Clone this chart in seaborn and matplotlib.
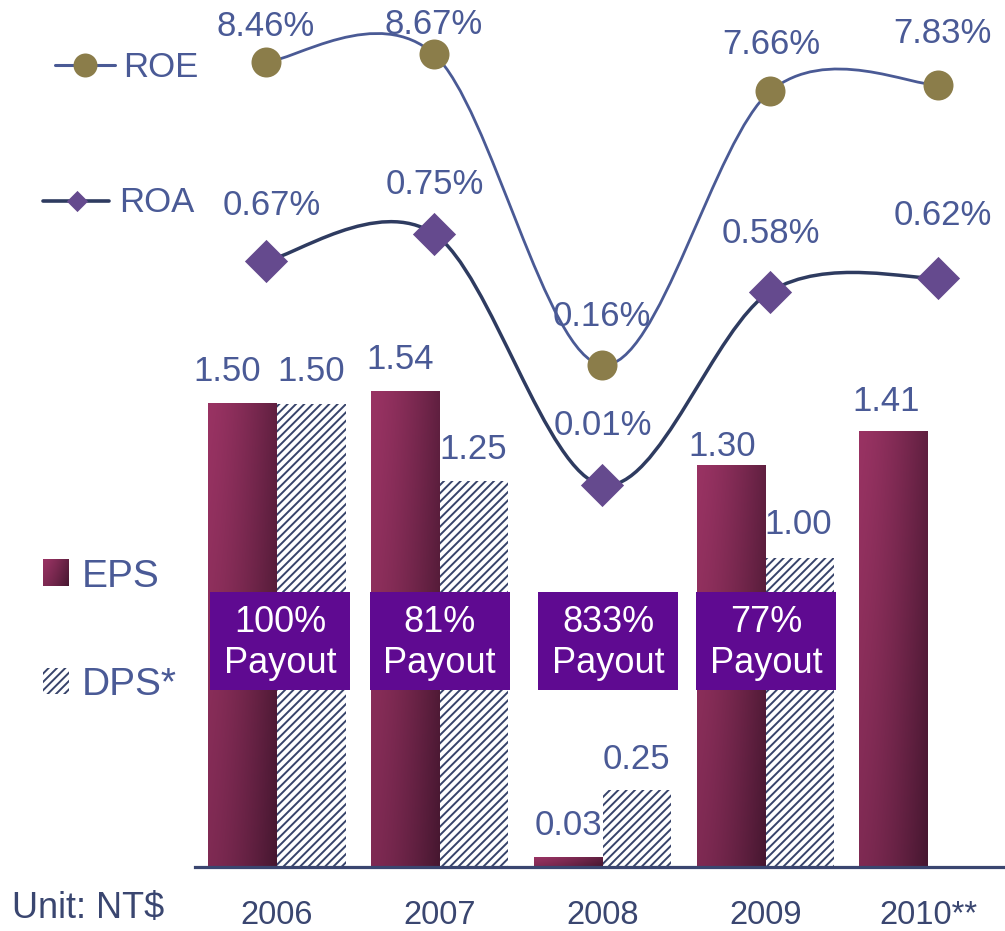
import numpy as np
import pandas as pd
import matplotlib
matplotlib.use("Agg")
import matplotlib.pyplot as plt
import seaborn as sns
from matplotlib.path import Path
from matplotlib.patches import PathPatch, Rectangle

# ---------------- data ----------------
years = ["2006", "2007", "2008", "2009", "2010**"]
eps = [1.50, 1.54, 0.03, 1.30, 1.41]
dps = [1.50, 1.25, 0.25, 1.00, np.nan]
roe = [8.46, 8.67, 0.16, 7.66, 7.83]
roa = [0.67, 0.75, 0.01, 0.58, 0.62]
payout = ["100%", "81%", "833%", "77%", None]

# ---------------- style ----------------
sns.set_theme(style="white")
plt.rcParams["font.family"] = ["Liberation Sans", "DejaVu Sans"]
plt.rcParams["hatch.linewidth"] = 1.4

TXT = "#4a5a96"
TICK = "#3a4670"
ROE_LINE = "#4a5a95"
ROA_LINE = "#2e3b60"
ROE_MK = "#8b7d4a"
ROA_MK = "#654a8e"
BOX = "#5f0a91"
HATCH_C = "#37436a"

W, H = 1005, 931
fig = plt.figure(figsize=(W / 100, H / 100), dpi=100)


def frac(x0, y0, x1, y1):
    return [x0 / W, 1 - y1 / H, (x1 - x0) / W, (y1 - y0) / H]


pos = frac(195, 0, 1005, 867)

# ---------------- bars ----------------
ax = fig.add_axes(pos)
df = pd.DataFrame({
    "year": years * 2,
    "metric": ["EPS"] * len(years) + ["DPS"] * len(years),
    "value": eps + dps,
}).dropna()
sns.barplot(data=df, x="year", y="value", hue="metric", order=years,
            hue_order=["EPS", "DPS"], width=0.842, saturation=1,
            palette={"EPS": "#8a2c58", "DPS": "white"}, errorbar=None,
            legend=False, ax=ax)

XL = (-0.5038, 4.473)
YL = (0, 2.8086)

c0 = np.array([0x99, 0x33, 0x63]) / 255
c1 = np.array([0x46, 0x17, 0x30]) / 255
uu = np.linspace(0, 1, 80)[None, :]
vv = np.linspace(0, 1, 80)[:, None]
tt = np.clip(0.68 * uu ** 1.4 + 0.32 * vv, 0, 1)
grad = c0[None, None, :] + (c1 - c0)[None, None, :] * tt[:, :, None]

eps_bars = list(ax.containers[0])
dps_bars = list(ax.containers[1])
for b in eps_bars:
    b.set_linewidth(0)
    x0, y0, w, h = b.get_x(), b.get_y(), b.get_width(), b.get_height()
    ax.imshow(grad, extent=[x0, x0 + w, y0, y0 + h], origin="upper",
              aspect="auto", zorder=b.get_zorder() + 0.01, interpolation="bilinear")
for b in dps_bars:
    b.set_facecolor("white")
    b.set_edgecolor(HATCH_C)
    b.set_hatch("////")
    b.set_linewidth(0)

# bar value labels (offsets in px: dx, text-centre above bar top)
eps_off = [(-16, 35), (-5, 35), (0, 35), (-9, 22), (-8, 33)]
dps_off = [(0, 35), (-1, 35), (0, 33), (-1, 37)]
for b, (dx, dy) in zip(eps_bars, eps_off):
    ax.annotate(f"{b.get_height():.2f}", (b.get_x() + b.get_width() / 2, b.get_height()),
                xytext=(dx * 0.72, (dy - 12.5) * 0.72), textcoords="offset points",
                ha="center", va="baseline", fontsize=25, color=TXT, zorder=6)
for b, (dx, dy) in zip(dps_bars, dps_off):
    ax.annotate(f"{b.get_height():.2f}", (b.get_x() + b.get_width() / 2, b.get_height()),
                xytext=(dx * 0.72, (dy - 12.5) * 0.72), textcoords="offset points",
                ha="center", va="baseline", fontsize=25, color=TXT, zorder=6)

# payout boxes
box_dx = [0.02, 0.0, 0.035, 0.005]
for i, p in enumerate(payout):
    if p is None:
        continue
    bw = 0.86
    cx = i + box_dx[i]
    ax.add_patch(Rectangle((cx - bw / 2, 0.573), bw, 0.318, facecolor=BOX,
                           edgecolor="none", zorder=7))
    ax.text(cx, 0.726, f"{p}\nPayout", ha="center", va="center", color="white",
            fontsize=26, linespacing=1.2, zorder=8)

ax.set_xlim(*XL)
ax.set_ylim(*YL)
ax.set_xlabel("")
ax.set_ylabel("")
ax.set_yticks([])
for s in ["top", "right", "left"]:
    ax.spines[s].set_visible(False)
ax.spines["bottom"].set_color(TICK)
ax.spines["bottom"].set_linewidth(2.3)
ax.tick_params(axis="x", length=0, pad=24, labelsize=23.5, labelcolor=TICK)
ax.patch.set_alpha(0)


# ---------------- lines ----------------
def smooth_path(xs, ys):
    pts = np.column_stack([xs, ys]).astype(float)
    n = len(pts)
    verts = [pts[0]]
    codes = [Path.MOVETO]
    for i in range(n - 1):
        p0 = pts[i - 1] if i > 0 else pts[i]
        p1 = pts[i]
        p2 = pts[i + 1]
        p3 = pts[i + 2] if i + 2 < n else pts[i + 1]
        verts += [p1 + (p2 - p0) / 6, p2 - (p3 - p1) / 6, p2]
        codes += [Path.CURVE4] * 3
    return Path(verts, codes)


LX = (-0.4224, 4.396)
xs = np.arange(len(years))

ax_roe = fig.add_axes(pos)
ax_roe.set_xlim(*LX)
ax_roe.set_ylim(-13.595, 10.159)
ax_roe.axis("off")
ax_roe.add_patch(PathPatch(smooth_path(xs, roe), facecolor="none",
                           edgecolor=ROE_LINE, lw=2.0, zorder=3))
sns.scatterplot(x=xs, y=roe, ax=ax_roe, marker="o", s=21.6 ** 2, color=ROE_MK,
                linewidth=0, zorder=4, legend=False)
roe_off = [(0, 38.5), (0, 32.5), (0, 51.5), (1, 50), (4, 55)]
for x, v, (dx, dy) in zip(xs, roe, roe_off):
    ax_roe.annotate(f"{v:.2f}%", (x, v), xytext=(dx * 0.72, (dy - 12.5) * 0.72),
                    textcoords="offset points", ha="center", va="baseline",
                    fontsize=25, color=TXT, zorder=6)

ax_roa = fig.add_axes(pos)
ax_roa.set_xlim(*LX)
ax_roa.set_ylim(-1.1155, 1.439)
ax_roa.axis("off")
ax_roa.add_patch(PathPatch(smooth_path(xs, roa), facecolor="none",
                           edgecolor=ROA_LINE, lw=2.5, zorder=3))
sns.scatterplot(x=xs, y=roa, ax=ax_roa, marker="D", s=22 ** 2, color=ROA_MK,
                linewidth=0, zorder=4, legend=False)
roa_off = [(6, 58.5), (1, 52.5), (1, 62.5), (1, 61), (4, 65)]
for x, v, (dx, dy) in zip(xs, roa, roa_off):
    ax_roa.annotate(f"{v:.2f}%", (x, v), xytext=(dx * 0.72, (dy - 12.5) * 0.72),
                    textcoords="offset points", ha="center", va="baseline",
                    fontsize=25, color=TXT, zorder=6)

# ---------------- legend & unit (pixel overlay) ----------------
lg = fig.add_axes([0, 0, 1, 1])
lg.set_xlim(0, W)
lg.set_ylim(H, 0)
lg.axis("off")
lg.patch.set_alpha(0)

lg.plot([55, 115], [65, 65], color=ROE_LINE, lw=2.2)
lg.scatter([85], [65], s=(24 * 0.72) ** 2, marker="o", color=ROE_MK, linewidths=0, zorder=3)
lg.text(123, 77, "ROE", fontsize=25, color=TXT, va="baseline", ha="left")

lg.plot([43, 109], [201, 201], color=ROA_LINE, lw=2.6)
lg.scatter([76.5], [201], s=(15 * 0.72) ** 2, marker="D", color=ROA_MK, linewidths=0, zorder=3)
lg.text(119, 212, "ROA", fontsize=25, color=TXT, va="baseline", ha="left")

lg.imshow(grad, extent=[43, 69, 586, 559], aspect="auto", zorder=2)
lg.text(82, 587, "EPS", fontsize=28, color=TXT, va="baseline", ha="left")

lg.add_patch(Rectangle((43, 668), 26, 26, facecolor="white", edgecolor=HATCH_C,
                       hatch="////", linewidth=0))
lg.text(82, 695, "DPS*", fontsize=28, color=TXT, va="baseline", ha="left")

lg.text(12, 918, "Unit: NT$", fontsize=26, color=TICK, va="baseline", ha="left")
lg.set_xlim(0, W)
lg.set_ylim(H, 0)

fig.savefig("out.png", dpi=100)
